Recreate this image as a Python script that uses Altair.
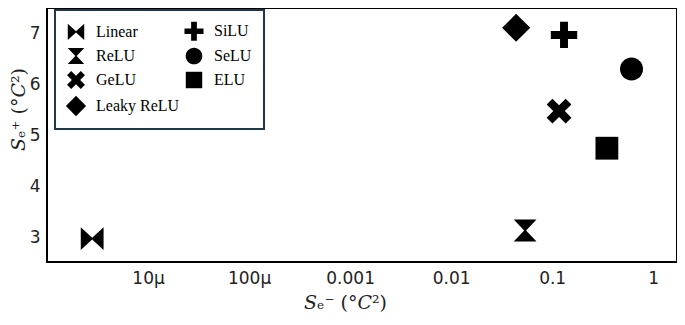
import math
import altair as alt
import pandas as pd

# ---- data ----
names = ["Linear", "ReLU", "GeLU", "Leaky ReLU", "SiLU", "SeLU", "ELU"]
s_minus = [2.8e-6, 0.054, 0.117, 0.044, 0.131, 0.61, 0.348]
s_plus = [2.97, 3.13, 5.48, 7.12, 6.98, 6.31, 4.75]
x_ticks = [1e-5, 1e-4, 1e-3, 1e-2, 1e-1, 1]
y_ticks = [3, 4, 5, 6, 7]

df = pd.DataFrame({"name": names, "smin": s_minus, "splus": s_plus})


# ---- marker shapes (unit box -1..1) ----
def poly(pts):
    return "M" + "L".join(f"{x:.3f},{y:.3f}" for x, y in pts) + "Z"


def plus_pts(e, t):
    return [(-t, -e), (t, -e), (t, -t), (e, -t), (e, t), (t, t), (t, e), (-t, e),
            (-t, t), (-e, t), (-e, -t), (-t, -t)]


def rot45(pts):
    c = math.cos(math.pi / 4)
    return [(x * c - y * c, x * c + y * c) for x, y in pts]


bowtie = "M-0.95,-0.95L0,-0.08L0.95,-0.95L0.95,0.95L0,0.08L-0.95,0.95Z"
hourglass = "M-0.95,-0.92L0.95,-0.92L0.08,0L0.95,0.92L-0.95,0.92L-0.08,0Z"
xshape = poly(rot45(plus_pts(1.12, 0.34)))
diamond = "M0,-1.17L1.17,0L0,1.17L-1.17,0Z"
plus = poly(plus_pts(1.1, 0.33))
circle = "M-0.96,0A0.96,0.96 0 1,0 0.96,0A0.96,0.96 0 1,0 -0.96,0Z"
square = "M-0.95,-0.95L0.95,-0.95L0.95,0.95L-0.95,0.95Z"
shape_map = {"Linear": bowtie, "ReLU": hourglass, "GeLU": xshape,
             "Leaky ReLU": diamond, "SiLU": plus, "SeLU": circle, "ELU": square}

chart = alt.Chart(df).mark_point(filled=True, color="black", opacity=1, size=576).encode(
    x=alt.X("smin:Q",
            scale=alt.Scale(type="log", domain=[1e-6, 1.72], nice=False),
            axis=alt.Axis(values=x_ticks, title="𝑆ₑ⁻ (°𝐶²)",
                          labelExpr="datum.value < 0.001 ? format(datum.value, '~s') : format(datum.value, '~g')",
                          titleX=298)),
    y=alt.Y("splus:Q",
            scale=alt.Scale(domain=[2.51, 7.51], nice=False, zero=False),
            axis=alt.Axis(values=y_ticks, title="𝑆ₑ⁺ (°𝐶²)", titleY=101)),
    shape=alt.Shape("name:N",
                    scale=alt.Scale(domain=names, range=[shape_map[n] for n in names]),
                    legend=alt.Legend(title=None, orient="none", legendX=8, legendY=2,
                                      columns=2, symbolSize=300,
                                      symbolFillColor="black", symbolStrokeWidth=0,
                                      labelFont="Liberation Serif", labelFontSize=16,
                                      labelColor="black", labelOffset=11,
                                      columnPadding=4, rowPadding=6, padding=12,
                                      strokeColor="#1e3a4a", fillColor="white",
                                      labelLimit=300)),
).properties(
    width=630, height=254,
    autosize=alt.AutoSizeParams(type="none"),
    padding={"left": 39, "top": 0, "right": 0, "bottom": 55},
).configure_view(
    stroke="black", strokeWidth=2
).configure_axis(
    grid=False, ticks=False, tickSize=0, domain=False,
    labelFont="DejaVu Sans", labelFontSize=17, labelColor="#222222",
    titleFont="DejaVu Serif", titleFontSize=19, titleFontWeight="normal", titleColor="#222222",
).configure_axisX(labelPadding=8, titlePadding=7).configure_axisY(labelPadding=7, titlePadding=1
).configure_legend(strokeWidth=2)

chart.save("out.html", embed_options={"renderer": "svg", "actions": False})
